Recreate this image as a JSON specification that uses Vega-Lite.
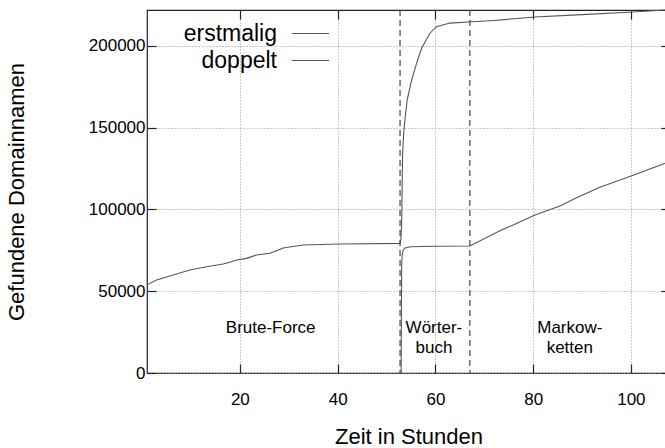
{
  "$schema": "https://vega.github.io/schema/vega-lite/v6.json",
  "width": 523,
  "height": 363,
  "autosize": {"type": "none"},
  "padding": {"left": 147, "top": 10, "right": 0, "bottom": 75},
  "background": "white",
  "config": {
    "font": "Liberation Sans",
    "view": {"stroke": "#222", "strokeWidth": 1.2},
    "axis": {
      "labelFont": "Liberation Sans", "labelFontSize": 17, "labelColor": "#000",
      "titleFont": "Liberation Sans", "titleFontSize": 22, "titleFontWeight": "normal", "titleColor": "#000",
      "domain": false, "tickSize": -9, "tickColor": "#222", "tickWidth": 1.2,
      "gridColor": "#999", "gridDash": [1, 2], "gridWidth": 1
    }
  },
  "datasets": {
    "curves": [
      {"h": 1.0, "v": 53900, "serie": "erstmalig"},
      {"h": 2.96, "v": 56900, "serie": "erstmalig"},
      {"h": 6.36, "v": 59900, "serie": "erstmalig"},
      {"h": 9.77, "v": 63000, "serie": "erstmalig"},
      {"h": 13.19, "v": 65000, "serie": "erstmalig"},
      {"h": 16.59, "v": 66700, "serie": "erstmalig"},
      {"h": 17.95, "v": 67700, "serie": "erstmalig"},
      {"h": 19.32, "v": 69100, "serie": "erstmalig"},
      {"h": 21.37, "v": 70100, "serie": "erstmalig"},
      {"h": 23.42, "v": 72200, "serie": "erstmalig"},
      {"h": 26.14, "v": 73200, "serie": "erstmalig"},
      {"h": 27.5, "v": 74800, "serie": "erstmalig"},
      {"h": 28.87, "v": 76500, "serie": "erstmalig"},
      {"h": 32.95, "v": 78300, "serie": "erstmalig"},
      {"h": 40.46, "v": 78900, "serie": "erstmalig"},
      {"h": 52.74, "v": 79300, "serie": "erstmalig"},
      {"h": 52.95, "v": 82000, "serie": "erstmalig"},
      {"h": 53.08, "v": 90000, "serie": "erstmalig"},
      {"h": 53.15, "v": 100000, "serie": "erstmalig"},
      {"h": 53.22, "v": 120000, "serie": "erstmalig"},
      {"h": 53.29, "v": 134000, "serie": "erstmalig"},
      {"h": 53.5, "v": 146000, "serie": "erstmalig"},
      {"h": 53.76, "v": 154700, "serie": "erstmalig"},
      {"h": 54.23, "v": 167000, "serie": "erstmalig"},
      {"h": 55.13, "v": 179000, "serie": "erstmalig"},
      {"h": 56.15, "v": 189400, "serie": "erstmalig"},
      {"h": 57.18, "v": 198600, "serie": "erstmalig"},
      {"h": 58.87, "v": 207800, "serie": "erstmalig"},
      {"h": 60.24, "v": 211800, "serie": "erstmalig"},
      {"h": 62.97, "v": 214000, "serie": "erstmalig"},
      {"h": 67.7, "v": 214800, "serie": "erstmalig"},
      {"h": 72.0, "v": 215600, "serie": "erstmalig"},
      {"h": 80.36, "v": 217700, "serie": "erstmalig"},
      {"h": 90.0, "v": 219200, "serie": "erstmalig"},
      {"h": 100.41, "v": 220800, "serie": "erstmalig"},
      {"h": 108.0, "v": 222200, "serie": "erstmalig"},
      {"h": 53.0, "v": 0, "serie": "doppelt"},
      {"h": 53.05, "v": 40000, "serie": "doppelt"},
      {"h": 53.1, "v": 65000, "serie": "doppelt"},
      {"h": 53.2, "v": 72000, "serie": "doppelt"},
      {"h": 53.4, "v": 75000, "serie": "doppelt"},
      {"h": 53.8, "v": 76500, "serie": "doppelt"},
      {"h": 55.0, "v": 77200, "serie": "doppelt"},
      {"h": 60.0, "v": 77500, "serie": "doppelt"},
      {"h": 67.06, "v": 77700, "serie": "doppelt"},
      {"h": 73.2, "v": 87000, "serie": "doppelt"},
      {"h": 75.9, "v": 90500, "serie": "doppelt"},
      {"h": 80.36, "v": 96600, "serie": "doppelt"},
      {"h": 85.47, "v": 102100, "serie": "doppelt"},
      {"h": 88.88, "v": 107200, "serie": "doppelt"},
      {"h": 93.65, "v": 113600, "serie": "doppelt"},
      {"h": 100.47, "v": 120900, "serie": "doppelt"},
      {"h": 106.6, "v": 127800, "serie": "doppelt"},
      {"h": 108.0, "v": 129600, "serie": "doppelt"}
    ],
    "phases": [{"h": 52.77}, {"h": 67.06}],
    "labels": [
      {"t": "Brute-Force", "h": 26.3, "v": 24500},
      {"t": "Wörter-", "h": 59.7, "v": 24500},
      {"t": "buch", "h": 59.7, "v": 12200},
      {"t": "Markow-", "h": 87.5, "v": 24500},
      {"t": "ketten", "h": 87.5, "v": 12200}
    ]
  },
  "layer": [
    {
      "data": {"name": "curves"},
      "mark": {"type": "line", "strokeWidth": 1.1},
      "encoding": {
        "x": {"field": "h", "type": "quantitative",
              "scale": {"domain": [1, 108], "nice": false, "zero": false},
              "axis": {"orient": "bottom", "values": [20, 40, 60, 80, 100], "grid": true,
                       "title": "Zeit in Stunden", "labelPadding": 27, "titlePadding": 19}},
        "y": {"field": "v", "type": "quantitative",
              "scale": {"domain": [0, 222000], "nice": false},
              "axis": {"orient": "left", "values": [0, 50000, 100000, 150000, 200000], "format": "d", "grid": true,
                       "title": "Gefundene Domainnamen", "labelPadding": 11, "titlePadding": 60}},
        "color": {"field": "serie", "type": "nominal",
                  "scale": {"domain": ["erstmalig", "doppelt"], "range": ["#555", "#555"]},
                  "legend": {"orient": "none", "legendX": 152, "legendY": 12, "title": null,
                             "symbolType": "M-2,0H2", "symbolSize": 342, "symbolStrokeWidth": 1,
                             "symbolStrokeColor": "#444", "symbolFillColor": "transparent",
                             "labelFontSize": 23, "labelAlign": "right", "labelOffset": -45,
                             "labelColor": "#000", "padding": 0, "rowPadding": 3}}
      }
    },
    {
      "data": {"name": "phases"},
      "mark": {"type": "rule", "strokeDash": [6, 4], "color": "#444", "strokeWidth": 1.2},
      "encoding": {
        "x": {"field": "h", "type": "quantitative", "scale": {"domain": [1, 108], "nice": false, "zero": false}, "axis": null}
      }
    },
    {
      "data": {"name": "labels"},
      "mark": {"type": "text", "fontSize": 17, "align": "center", "baseline": "alphabetic", "color": "#000", "font": "Liberation Sans"},
      "encoding": {
        "x": {"field": "h", "type": "quantitative",
              "scale": {"domain": [1, 108], "nice": false, "zero": false},
              "axis": {"orient": "top", "values": [20, 40, 60, 80, 100], "grid": false, "labels": false, "title": null}},
        "y": {"field": "v", "type": "quantitative",
              "scale": {"domain": [0, 222000], "nice": false},
              "axis": {"orient": "right", "values": [0, 50000, 100000, 150000, 200000], "grid": false, "labels": false, "title": null}},
        "text": {"field": "t"}
      }
    }
  ],
  "resolve": {"axis": {"x": "independent", "y": "independent"}}
}
